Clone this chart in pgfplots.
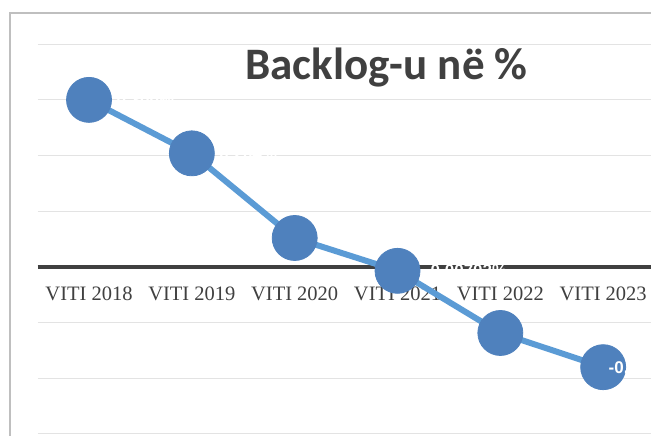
\documentclass[border=0pt]{standalone}
\usepackage{fontspec}
\usepackage{pgfplots}
\pgfplotsset{compat=1.18}
\newfontfamily\titlefont{Carlito}
\newfontfamily\labfont{Liberation Serif}
\newfontfamily\datafont{Liberation Sans}
\definecolor{lineblue}{HTML}{5B9BD5}
\definecolor{markblue}{HTML}{4F81BD}
\definecolor{gridgray}{HTML}{E3E3E3}
\definecolor{framegray}{HTML}{BFBFBF}
\definecolor{zerocol}{HTML}{404040}
\definecolor{titlecol}{HTML}{404040}
\begin{document}
\begin{tikzpicture}[x=1pt,y=1pt]
\useasboundingbox (0,0) rectangle (651,436);
\draw[framegray, line width=2pt] (10,-5) -- (10,423) -- (660,423);
\begin{axis}[
  at={(37.6pt,2pt)}, anchor=south west,
  scale only axis, width=617pt, height=389.8pt,
  xmin=-0.5, xmax=5.5, ymin=-0.3, ymax=0.4,
  axis line style={draw=none},
  ytick={-0.3,-0.2,-0.1,0,0.1,0.2,0.3,0.4},
  yticklabels={},
  ytick style={draw=none},
  ymajorgrids,
  grid style={gridgray, line width=1pt},
  extra y ticks={0},
  extra y tick labels={},
  extra y tick style={grid style={zerocol, line width=3.3pt}, tick style={draw=none}},
  xtick={0,1,2,3,4,5},
  xticklabels={VITI 2018,VITI 2019,VITI 2020,VITI 2021,VITI 2022,VITI 2023},
  xtick style={draw=none},
  xticklabel style={anchor=base, yshift=133pt, text=zerocol,
    font=\labfont\fontsize{20.5}{24}\selectfont},
  title={Backlog-u në \%},
  title style={at={(0.5655,0.8935)}, anchor=base, text=titlecol,
    font=\titlefont\bfseries\fontsize{45}{54}\selectfont},
  clip=false,
]
\addplot[lineblue, line width=6pt, mark=*, mark size=22.5pt,
  mark options={fill=markblue, draw=markblue, line width=0.8pt}]
  coordinates {
    (0,0.300)
    (1,0.204)
    (2,0.052)
    (3,-0.007)
    (4,-0.1186)
    (5,-0.180)
  };
% data labels (white, as in the reference)
\addplot[draw=none, mark=none,
  nodes near coords, point meta=explicit symbolic,
  every node near coord/.append style={anchor=west, xshift=24pt, text=white,
    font=\datafont\bfseries\fontsize{17}{20}\selectfont}]
  coordinates {
    (0,0.300)  [0.300\%]
    (1,0.204)  [0.204\%]
    (2,0.052)  [0.0520\%]
    (3,-0.007) [-0.00702\%]
    (4,-0.1186)[-0.11863\%]
  };
\addplot[draw=none, mark=none,
  nodes near coords, point meta=explicit symbolic,
  every node near coord/.append style={anchor=west, xshift=2pt, text=white,
    font=\datafont\bfseries\fontsize{17}{20}\selectfont}]
  coordinates {
    (5,-0.180) [-0.18]
  };
\end{axis}
\end{tikzpicture}
\end{document}
